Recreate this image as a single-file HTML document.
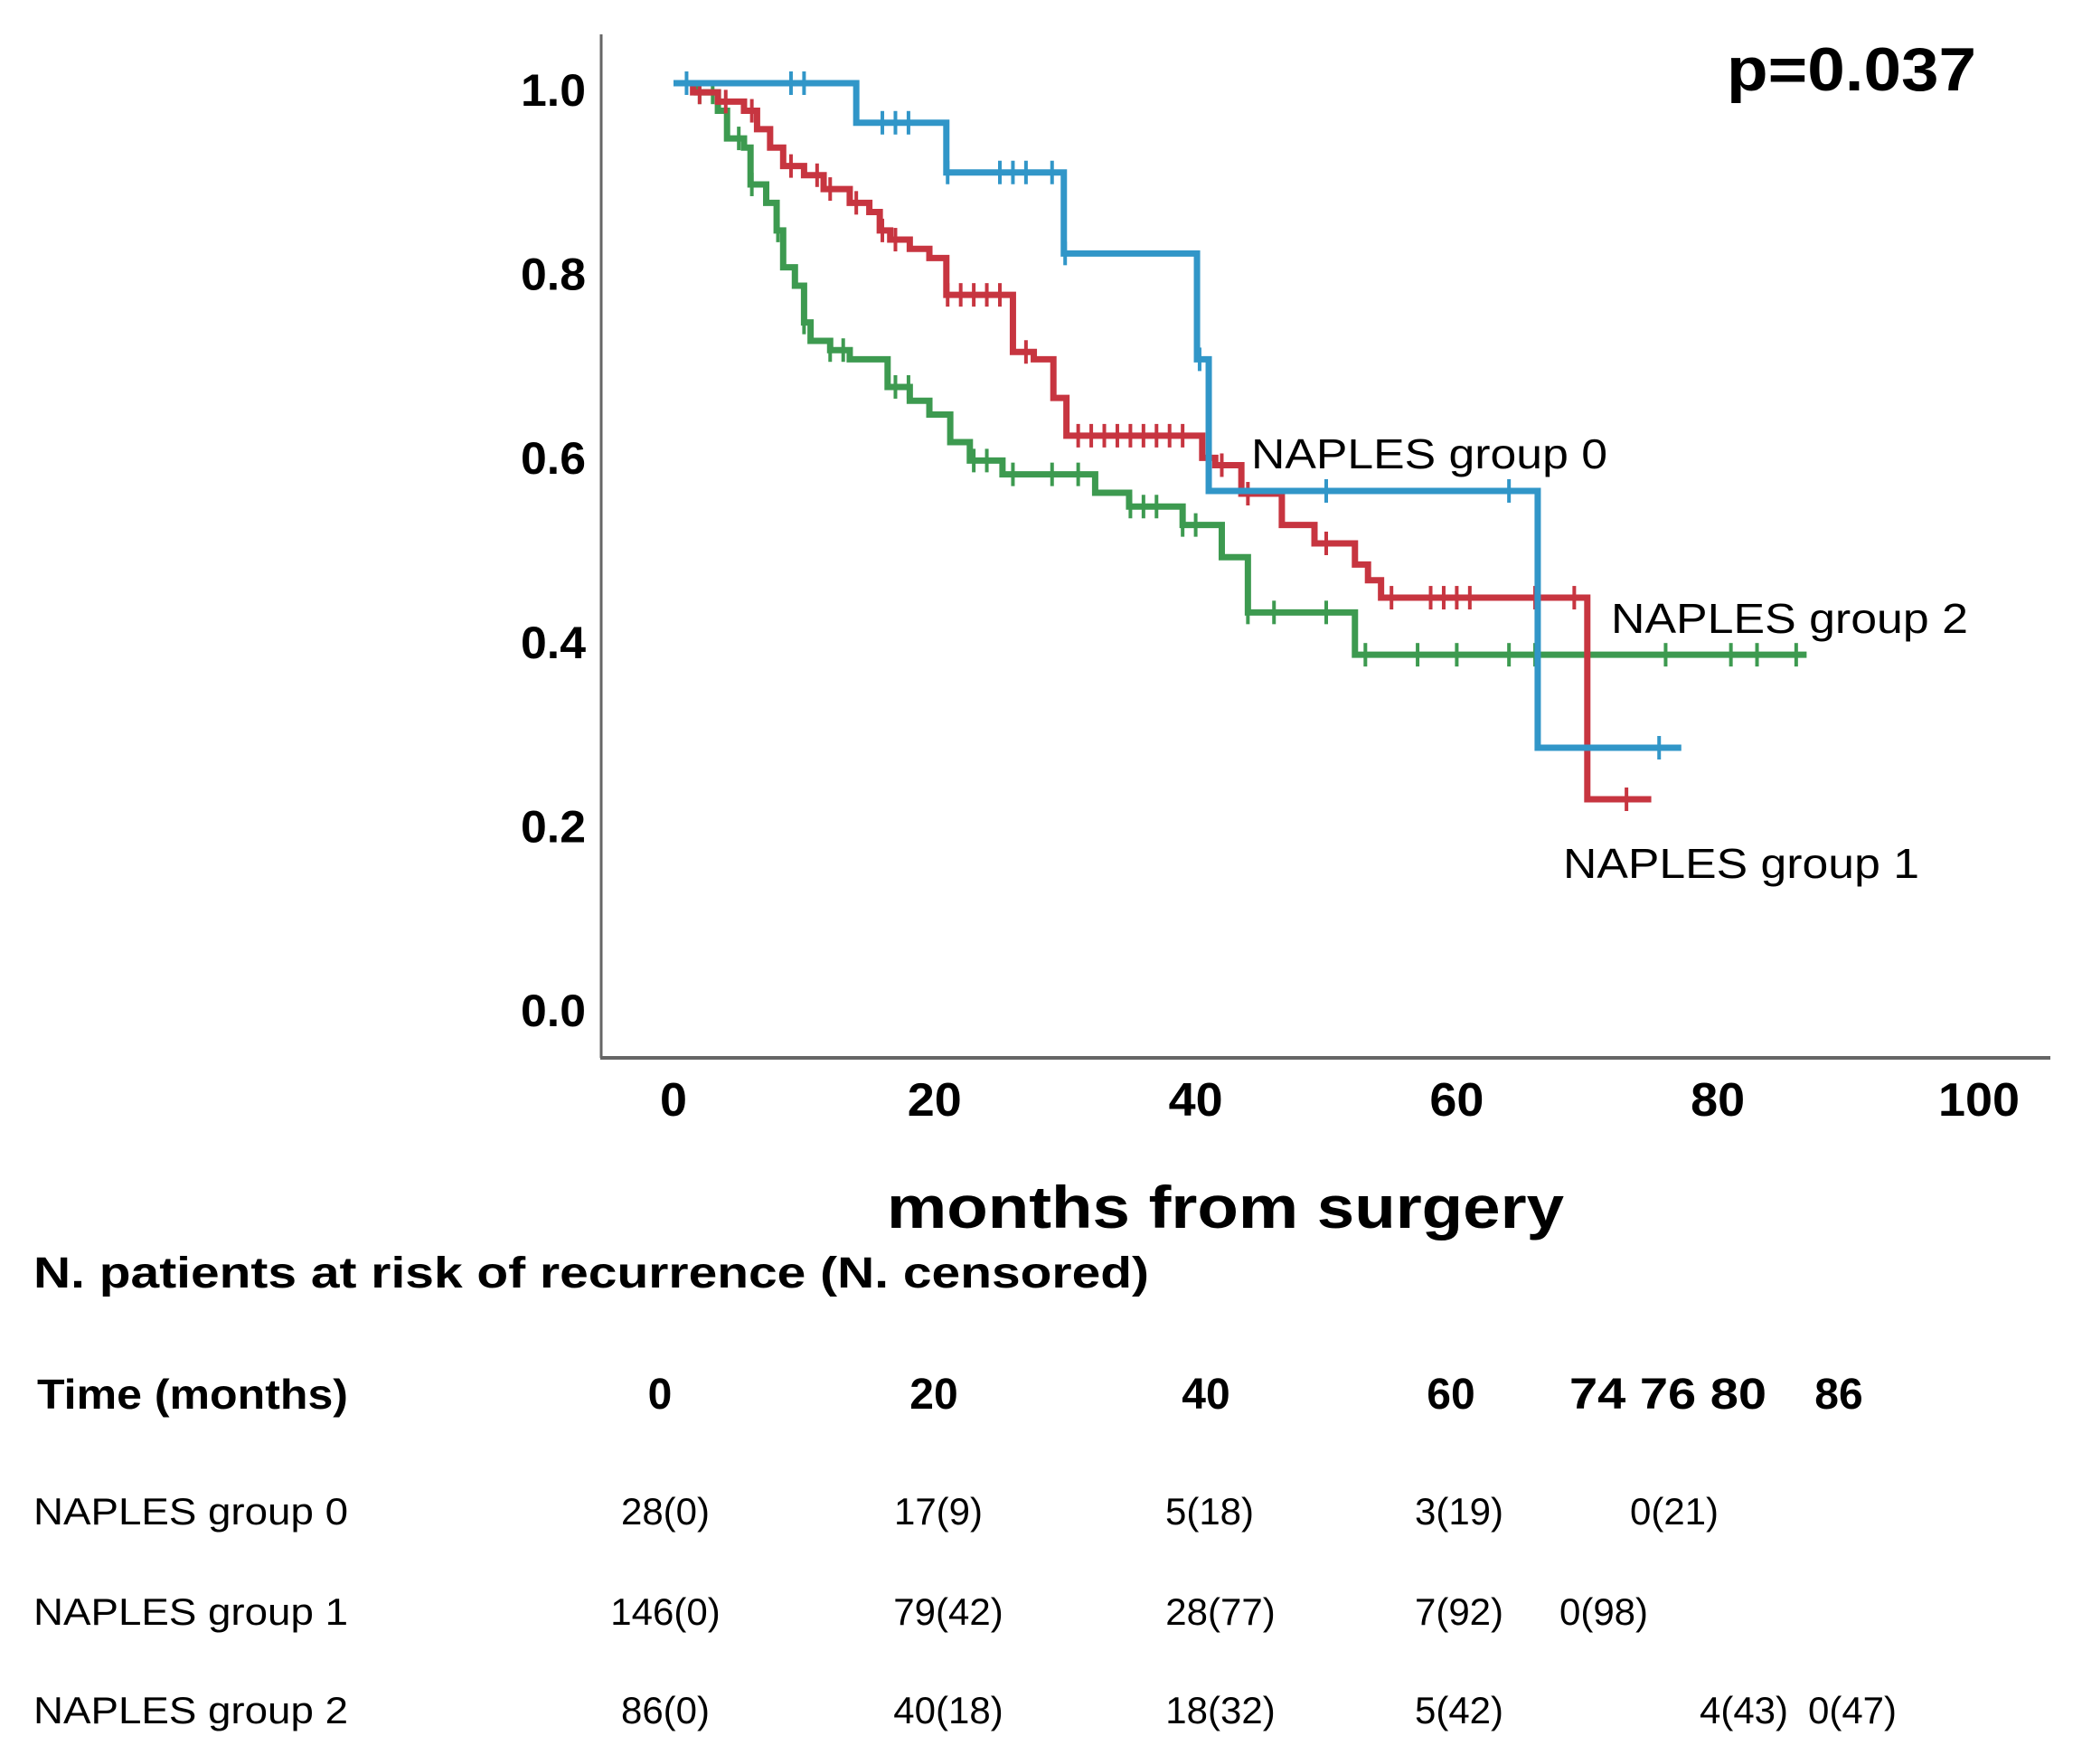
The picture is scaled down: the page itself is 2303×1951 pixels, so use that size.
<!DOCTYPE html>
<html><head><meta charset="utf-8">
<style>
html,body{margin:0;padding:0;background:#fff;}
svg{display:block;font-family:"Liberation Sans",Arial,sans-serif;}
</style></head>
<body>
<svg id="chart" width="2303" height="1951" viewBox="0 0 2303 1951" xmlns="http://www.w3.org/2000/svg">
<rect width="2303" height="1951" fill="#fff"/>
<g id="axes"></g>
<g id="series"></g>
<text x="2186" y="100" text-anchor="end" font-size="68" font-weight="bold" textLength="276" lengthAdjust="spacingAndGlyphs">p=0.037</text>
<text x="1384" y="518" font-size="46" textLength="394" lengthAdjust="spacingAndGlyphs">NAPLES group 0</text>
<text x="1782" y="700" font-size="46" textLength="395" lengthAdjust="spacingAndGlyphs">NAPLES group 2</text>
<text x="1729" y="971" font-size="46" textLength="394" lengthAdjust="spacingAndGlyphs">NAPLES group 1</text>
<text x="981" y="1358" font-size="66" font-weight="bold" textLength="749" lengthAdjust="spacingAndGlyphs">months from surgery</text>
<text x="37" y="1424" font-size="48" font-weight="bold" textLength="1234" lengthAdjust="spacingAndGlyphs">N. patients at risk of recurrence (N. censored)</text>
<g id="table"></g>
</svg>
<script>
const yTicks = [0.0, 0.2, 0.4, 0.6, 0.8, 1.0];
const xTicks = [0, 20, 40, 60, 80, 100];
// group 0 (blue): drop times and survival
const g0Times = [0, 14, 20.9, 29.9, 40.1, 41, 66.2];
const g0Surv = [1, 0.957, 0.903, 0.815, 0.70, 0.557, 0.278];
const g0End = 77.2;
const g0Cens = [1, 9, 10, 16, 17, 18, 21, 25, 26, 27, 29, 30, 40.3, 50, 64, 75.5];
// group 1 (red)
const g1Times = [0, 1.5, 3.4, 5.4, 6.4, 7.4, 8.4, 10, 11.5, 13.5, 15, 15.8, 16.6, 18.1, 19.6, 20.9, 26, 27.6, 29.1, 30.1, 40.5, 41.5, 43.5, 46.6, 49.1, 52.2, 53.2, 54.2, 70];
const g1Surv = [1, 0.99, 0.98, 0.97, 0.95, 0.93, 0.91, 0.90, 0.885, 0.87, 0.86, 0.84, 0.83, 0.82, 0.81, 0.77, 0.708, 0.70, 0.658, 0.617, 0.593, 0.585, 0.554, 0.52, 0.50, 0.477, 0.46, 0.441, 0.222];
const g1End = 74.9;
const g1Cens = [2, 4, 6, 9, 11, 12, 14, 16, 17, 21, 22, 23, 24, 25, 27, 31, 32, 33, 34, 35, 36, 37, 38, 39, 42, 44, 50, 55, 58, 59, 60, 61, 66, 69, 73];
// group 2 (green)
const g2Times = [0, 1.8, 3.4, 4.1, 5.4, 5.9, 7.1, 7.9, 8.4, 9.3, 10, 10.5, 12, 13.5, 16.4, 18.1, 19.6, 21.2, 22.7, 25.2, 32.3, 34.9, 39, 42, 44, 52.2];
const g2Surv = [1, 0.99, 0.97, 0.94, 0.93, 0.89, 0.87, 0.84, 0.80, 0.78, 0.74, 0.72, 0.71, 0.70, 0.67, 0.655, 0.64, 0.61, 0.59, 0.575, 0.555, 0.54, 0.52, 0.485, 0.425, 0.379];
const g2End = 86.8;
const g2Cens = [2, 3, 5, 6, 8, 10, 12, 13, 17, 18, 23, 24, 26, 29, 31, 35, 36, 37, 39, 40, 44, 46, 50, 53, 57, 60, 64, 66, 70, 76, 81, 83, 86];

const tableCols = ["0", "20", "40", "60", "74 76 80", "86"];
const row0 = ["28(0)", "17(9)", "5(18)", "3(19)", "0(21)"];
const row1 = ["146(0)", "79(42)", "28(77)", "7(92)", "0(98)"];
const row2 = ["86(0)", "40(18)", "18(32)", "5(42)", "4(43)", "0(47)"];

const NS = "http://www.w3.org/2000/svg";
const X = t => 745 + t * 14.44;
const Y = v => 92 + (1 - v) * 1018;
function mk(tag, attrs, parent, txt) {
  const e = document.createElementNS(NS, tag);
  for (const k in attrs) e.setAttribute(k, attrs[k]);
  if (txt !== undefined) e.textContent = txt;
  parent.appendChild(e);
  return e;
}
const axes = document.getElementById('axes');
let a = mk('line', {x1: 665, y1: 38, x2: 665, y2: 1170, stroke: '#666', 'stroke-width': 3}, axes);


a = mk('line', {x1: 664, y1: 1170, x2: 2268, y2: 1170, stroke: '#666', 'stroke-width': 4}, axes);


yTicks.forEach(v => {
  const t = mk('text', {x: 648, y: Y(v) + 25, 'text-anchor': 'end', 'font-size': 50, 'font-weight': 'bold', textLength: 72, lengthAdjust: 'spacingAndGlyphs'}, axes, v.toFixed(1));
  
  
});
xTicks.forEach(v => {
  const t = mk('text', {x: X(v), y: 1234, 'text-anchor': 'middle', 'font-size': 52, 'font-weight': 'bold', textLength: String(v).length * 30, lengthAdjust: 'spacingAndGlyphs'}, axes, String(v));
  
  
});

const series = document.getElementById('series');
function drawKM(times, surv, end, cens, color, name) {
  let d = 'M' + X(times[0]) + ' ' + Y(surv[0]);
  for (let i = 1; i < times.length; i++) {
    d += ' H' + X(times[i]) + ' V' + Y(surv[i]);
  }
  d += ' H' + X(end);
  const p = mk('path', {d: d, fill: 'none', stroke: color, 'stroke-width': 7, 'stroke-linejoin': 'miter'}, series);
  
  
  cens.forEach(c => {
    let idx = 0;
    for (let i = 0; i < times.length; i++) if (times[i] <= c) idx = i;
    const y = Y(surv[idx]);
    const m = mk('line', {x1: X(c), y1: y - 13, x2: X(c), y2: y + 13, stroke: color, 'stroke-width': 4}, series);
    
    
  });
}
drawKM(g2Times, g2Surv, g2End, g2Cens, '#3d9a50', 'group-2');
drawKM(g1Times, g1Surv, g1End, g1Cens, '#c73540', 'group-1');
drawKM(g0Times, g0Surv, g0End, g0Cens, '#3196c8', 'group-0');

const table = document.getElementById('table');
let h = mk('text', {x: 41, y: 1558, 'font-size': 46, 'font-weight': 'bold', textLength: 344, lengthAdjust: 'spacingAndGlyphs'}, table, 'Time (months)');


const colX = [730, 1033, 1334, 1605, 1845, 2034];
tableCols.forEach((c, i) => {
  const t = mk('text', {x: colX[i], y: 1558, 'text-anchor': 'middle', 'font-size': 48, 'font-weight': 'bold'}, table, c);
  if (i === 4) { t.setAttribute('textLength', 218); t.setAttribute('lengthAdjust', 'spacingAndGlyphs'); }
  
  
});
const rows = [
  {label: 'NAPLES  group 0', vals: row0, xs: [736, 1038, 1338, 1614, 1852], y: 1686},
  {label: 'NAPLES  group 1', vals: row1, xs: [736, 1049, 1350, 1614, 1774], y: 1797},
  {label: 'NAPLES  group 2', vals: row2, xs: [736, 1049, 1350, 1614, 1929, 2049], y: 1906}
];
rows.forEach((r, ri) => {
  const l = mk('text', {x: 37, y: r.y, 'font-size': 42, textLength: 348, lengthAdjust: 'spacingAndGlyphs', 'xml:space': 'preserve'}, table, r.label);
  
  
  r.vals.forEach((v, i) => {
    const t = mk('text', {x: r.xs[i], y: r.y, 'text-anchor': 'middle', 'font-size': 42}, table, v);
    
    
  });
});
</script>
</body></html>
